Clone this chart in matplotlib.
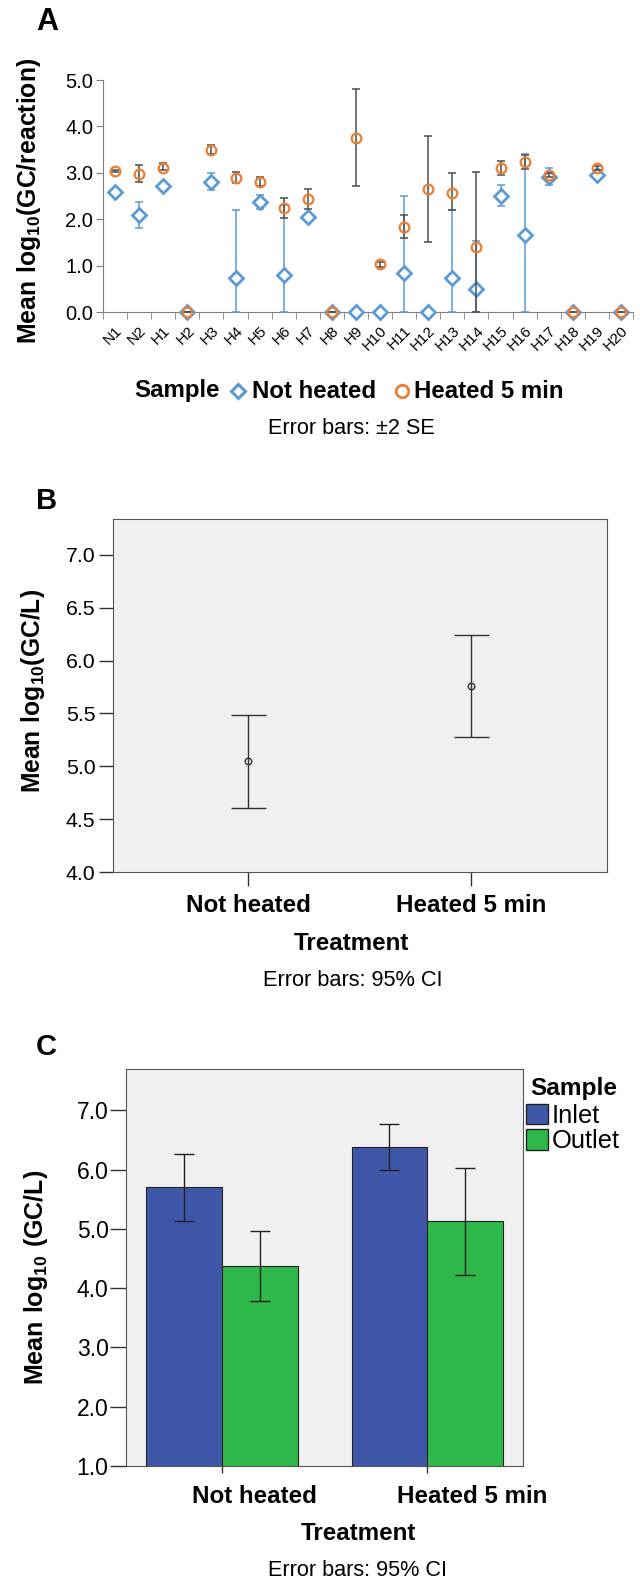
import matplotlib
matplotlib.use("Agg")
import matplotlib.pyplot as plt
from matplotlib.lines import Line2D
from matplotlib.patches import Patch
from matplotlib.transforms import ScaledTranslation
import numpy as np

FONT = "Liberation Sans"
plt.rcParams["font.family"] = [FONT, "DejaVu Sans"]
plt.rcParams["mathtext.fontset"] = "custom"
plt.rcParams["mathtext.rm"] = FONT
plt.rcParams["mathtext.bf"] = FONT + ":bold"

# ---- panel A data: mean log10 GC/reaction, error bars +-2 SE
samples = ["N1", "N2", "H1", "H2", "H3", "H4", "H5", "H6", "H7", "H8", "H9",
           "H10", "H11", "H12", "H13", "H14", "H15", "H16", "H17", "H18", "H19", "H20"]
nh_mean = [2.58, 2.08, 2.72, 0, 2.81, 0.73, 2.38, 0.80, 2.05, 0, 0,
           0, 0.83, 0, 0.73, 0.50, 2.51, 1.67, 2.92, 0, 2.96, 0]
nh_hi = [2.58, 2.37, 2.72, 0, 2.99, 2.20, 2.52, 2.30, 2.10, 0, 0,
         0, 2.49, 0, 2.19, 1.52, 2.74, 3.40, 3.10, 0, 3.00, 0]
nh_lo = [2.58, 1.82, 2.72, 0, 2.63, 0, 2.23, 0, 2.00, 0, 0,
         0, 0, 0, 0, 0, 2.29, 0, 2.74, 0, 2.92, 0]
ht_mean = [3.04, 2.97, 3.11, 0, 3.50, 2.89, 2.80, 2.24, 2.44, 0, 3.76,
           1.03, 1.83, 2.65, 2.57, 1.40, 3.10, 3.23, 2.95, 0, 3.10, 0]
ht_hi = [3.07, 3.17, 3.22, 0, 3.60, 3.02, 2.92, 2.46, 2.66, 0, 4.80,
         1.08, 2.08, 3.79, 2.99, 3.01, 3.26, 3.38, 3.00, 0, 3.14, 0]
ht_lo = [3.01, 2.80, 3.05, 0, 3.40, 2.78, 2.72, 2.03, 2.22, 0, 2.72,
         0.98, 1.59, 1.51, 2.19, 0, 2.95, 3.09, 2.90, 0, 3.06, 0]

# ---- panel B data: mean log10 GC/L, 95% CI
treatments = ["Not heated", "Heated 5 min"]
b_mean = [5.05, 5.76]
b_lo = [4.61, 5.28]
b_hi = [5.49, 6.24]

# ---- panel C data: inlet / outlet
inlet_mean = [5.70, 6.38]
inlet_lo = [5.13, 6.00]
inlet_hi = [6.26, 6.77]
outlet_mean = [4.37, 5.13]
outlet_lo = [3.79, 4.22]
outlet_hi = [4.96, 6.03]

BLUE = "#5b9bd5"
ORANGE = "#ed7d31"
GRAY = "#4d4d4d"
INLET = "#3f57a8"
OUTLET = "#2fb84a"
W, H = 640, 1581


def fx(px):
    return px / W


def fy(py):
    return 1 - py / H


fig = plt.figure(figsize=(6.4, 15.81), dpi=100)

# ================= A
axA = fig.add_axes([fx(103), fy(312), fx(530), 232 / H])
x = np.arange(len(samples))
m, lo, hi = map(np.array, (nh_mean, nh_lo, nh_hi))
axA.errorbar(x, m, yerr=[m - lo, hi - m], fmt="none", ecolor=BLUE, elinewidth=1.1,
             capsize=3.2, capthick=1.1, clip_on=False, zorder=3)
axA.plot(x, m, ls="none", marker="D", ms=6.8, mfc="white", mec=BLUE, mew=2,
         clip_on=False, zorder=4)
m, lo, hi = map(np.array, (ht_mean, ht_lo, ht_hi))
axA.errorbar(x, m, yerr=[m - lo, hi - m], fmt="none", ecolor=GRAY, elinewidth=1.1,
             capsize=3.2, capthick=1.1, clip_on=False, zorder=5)
axA.plot(x, m, ls="none", marker="o", ms=7, mfc="none", mec=ORANGE, mew=1.6,
         clip_on=False, zorder=6)
axA.set_xlim(-0.5, len(samples) - 0.5)
axA.set_ylim(0, 5)
at = np.arange(0, 5.1, 1.0)
axA.set_yticks(at)
axA.set_yticklabels([f"{v:.1f}" for v in at], fontsize=14.5)
axA.set_xticks(x)
axA.set_xticklabels(samples, rotation=45, ha="right", va="top",
                    rotation_mode="anchor", fontsize=11)
axA.set_xticks(np.arange(-0.5, len(samples)), minor=True)
axA.tick_params(axis="x", which="major", length=0, pad=8)
axA.tick_params(axis="x", which="minor", length=5, color="#7f7f7f")
axA.tick_params(axis="y", length=5, color="#7f7f7f", pad=2)
for s in ("top", "right"):
    axA.spines[s].set_visible(False)
for s in ("left", "bottom"):
    axA.spines[s].set_color("#7f7f7f")
fig.text(fx(29), fy(201), r"$\mathbf{Mean\ log_{10}(GC/reaction)}$", rotation=90,
         ha="center", va="center", fontsize=17.8)
fig.text(fx(36), fy(22), "A", fontsize=22, fontweight="bold", ha="left", va="center")

# legend row of panel A
ly = fy(391)
fig.text(fx(134), ly, "Sample", fontsize=17.3, fontweight="bold", ha="left", va="center")
fig.add_artist(Line2D([fx(238)], [ly], transform=fig.transFigure, ls="none", marker="D",
                      ms=7.5, mfc="white", mec=BLUE, mew=2.2))
fig.text(fx(252), ly, "Not heated", fontsize=17.3, fontweight="bold", ha="left", va="center")
fig.add_artist(Line2D([fx(402)], [ly], transform=fig.transFigure, ls="none", marker="o",
                      ms=9, mfc="none", mec=ORANGE, mew=2))
fig.text(fx(414), ly, "Heated 5 min", fontsize=17.3, fontweight="bold", ha="left", va="center")
fig.text(fx(351), fy(428), "Error bars: \u00b12 SE", ha="center", va="center", fontsize=15.6)

# ================= B
axB = fig.add_axes([fx(112.7), fy(872), fx(494.7), 353 / H])
axB.set_facecolor("#f0f0f0")
m, lo, hi = map(np.array, (b_mean, b_lo, b_hi))
xb = np.arange(len(treatments))
axB.errorbar(xb, m, yerr=[m - lo, hi - m], fmt="o", ms=4.7, mfc="none", mec="#333333",
             mew=1, ecolor="#333333", elinewidth=1, capsize=12.6, capthick=1)
axB.set_xlim(-0.609, 1.611)
axB.set_ylim(4.0, 7.34)
bt = np.arange(4.0, 7.01, 0.5)
axB.set_yticks(bt)
axB.set_yticklabels([f"{v:.1f}" for v in bt], fontsize=15.3)
axB.set_xticks(xb)
axB.set_xticklabels(treatments, fontsize=17.4, fontweight="bold")
axB.tick_params(axis="x", length=10, color="#333333", width=1, pad=6)
axB.tick_params(axis="y", length=10, color="#333333", width=1, pad=2.5)
for s in axB.spines.values():
    s.set_color("#555555")
fig.text(fx(351), fy(943), "Treatment", fontsize=17.4, fontweight="bold",
         ha="center", va="center")
fig.text(fx(33), fy(691), r"$\mathbf{Mean\ log_{10}(GC/L)}$", rotation=90,
         ha="center", va="center", fontsize=17.7)
fig.text(fx(36), fy(501), "B", fontsize=21, fontweight="bold", ha="left", va="center")
fig.text(fx(353), fy(981), "Error bars: 95% CI", ha="center", va="center", fontsize=15.7)

# ================= C
axC = fig.add_axes([fx(126.2), fy(1466), fx(396.3), 396.7 / H])
axC.set_facecolor("#f0f0f0")
xc = np.arange(len(treatments))
bw = 0.369
axC.bar(xc - bw, inlet_mean, width=bw, align="edge", color=INLET,
        edgecolor="#222222", linewidth=0.8, label="Inlet", zorder=2)
axC.bar(xc, outlet_mean, width=bw, align="edge", color=OUTLET,
        edgecolor="#222222", linewidth=0.8, label="Outlet", zorder=2)
m, lo, hi = map(np.array, (inlet_mean, inlet_lo, inlet_hi))
axC.errorbar(xc - bw / 2, m, yerr=[m - lo, hi - m], fmt="none", ecolor="#222222",
             elinewidth=1, capsize=7.4, capthick=1, zorder=3)
m, lo, hi = map(np.array, (outlet_mean, outlet_lo, outlet_hi))
axC.errorbar(xc + bw / 2, m, yerr=[m - lo, hi - m], fmt="none", ecolor="#222222",
             elinewidth=1, capsize=7.4, capthick=1, zorder=3)
axC.set_xlim(-0.464, 1.462)
axC.set_ylim(1.0, 7.69)
ct = np.arange(1.0, 7.01, 1.0)
axC.set_yticks(ct)
axC.set_yticklabels([f"{v:.1f}" for v in ct], fontsize=16.5)
axC.set_xticks(xc)
axC.tick_params(axis="x", length=5, color="#333333", width=1, pad=8.5)
axC.tick_params(axis="y", length=11.5, color="#333333", width=1, pad=1.2)
axC.set_xticklabels(treatments, fontsize=17.4, fontweight="bold", ha="left")
# SPSS puts these labels left-aligned a little left of the tick
off = ScaledTranslation(-30 / 100, 0, fig.dpi_scale_trans)
for lab in axC.get_xticklabels():
    lab.set_transform(lab.get_transform() + off)
for s in axC.spines.values():
    s.set_color("#555555")
fig.text(fx(358), fy(1533), "Treatment", fontsize=17.4, fontweight="bold",
         ha="center", va="center")
fig.text(fx(36), fy(1277), r"$\mathbf{Mean\ log_{10}\ (GC/L)}$", rotation=90,
         ha="center", va="center", fontsize=18)
fig.text(fx(36), fy(1047), "C", fontsize=21, fontweight="bold", ha="left", va="center")
fig.text(fx(358), fy(1570), "Error bars: 95% CI", ha="center", va="center", fontsize=15.6)
fig.text(fx(530), fy(1088), "Sample", fontsize=17.6, fontweight="bold", ha="left", va="center")
axC.legend(handles=[Patch(facecolor=INLET, edgecolor="#222222", label="Inlet"),
                    Patch(facecolor=OUTLET, edgecolor="#222222", label="Outlet")],
           loc="upper left", bbox_to_anchor=(fx(526), fy(1104)),
           bbox_transform=fig.transFigure, frameon=False,
           fontsize=18.4, handlelength=0.85, handleheight=0.85,
           handletextpad=0.15, labelspacing=0.05, borderpad=0, borderaxespad=0)

fig.savefig("out.png", dpi=100)
